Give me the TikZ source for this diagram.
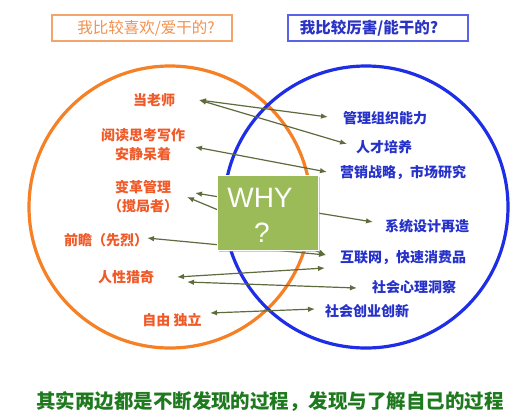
\documentclass[tikz,border=0pt]{standalone}
\usepackage{fontspec}
\newfontfamily\cjk{Noto Sans CJK SC}
\newfontfamily\latin{Liberation Sans}
\usetikzlibrary{arrows.meta,shadows}
\definecolor{orangeC}{HTML}{F58025}
\definecolor{blueC}{HTML}{1E2EE6}
\definecolor{leftT}{HTML}{EF5A28}
\definecolor{rightT}{HTML}{2531C9}
\definecolor{arrowC}{HTML}{5E6B3D}
\definecolor{whyG}{HTML}{9BBB59}
\definecolor{titleOT}{HTML}{F3914F}
\definecolor{titleOB}{HTML}{F4A36A}
\definecolor{titleBT}{HTML}{2A33C4}
\definecolor{titleBB}{HTML}{5A63E6}
\definecolor{bottomG}{HTML}{1F7A1F}
\begin{document}
\begin{tikzpicture}[x=1pt,y=-1pt,
  lt/.style={text=leftT,font=\cjk\bfseries\fontsize{14}{19}\selectfont,inner sep=0pt},
  rt/.style={text=rightT,font=\cjk\bfseries\fontsize{14}{19}\selectfont,inner sep=0pt},
  conn/.style={draw=arrowC,line width=1.2pt,{Latex[length=7pt,width=5.5pt]}-{Latex[length=7pt,width=5.5pt]}},
  titlebox/.style={minimum width=180pt,minimum height=26pt,line width=1.2pt,inner sep=0pt}]
\useasboundingbox (0,0) rectangle (530,418);
\fill[white] (0,0) rectangle (530,418);
% titles
\node[titlebox,draw=titleOB] (tbo) at (142,28) {};
\node[text=titleOT,font=\cjk\fontsize{15.5}{18}\selectfont] (tto) at (146,28) {我比较喜欢/爱干的?};
\node[titlebox,draw=titleBB] (tbb) at (378,28) {};
\node[text=titleBT,font=\cjk\bfseries\fontsize{15.5}{18}\selectfont] (ttb) at (369,28) {我比较厉害/能干的?};
% circles
\draw[orangeC,line width=3.2pt] (170,207) circle[radius=141];
\draw[blueC,line width=3.2pt] (366,207) ellipse[x radius=142,y radius=141];
% left labels
\node[lt] (teach) at (154,100) {当老师};
\node[lt,align=center] (read) at (143,145) {阅读思考写作\\安静呆着};
\node[lt,align=center] (change) at (143,197) {变革管理\\（搅局者）};
\node[lt] (fore) at (106,240) {前瞻（先烈）};
\node[lt] (human) at (126,277) {人性猎奇};
\node[lt] (free) at (172,320) {自由 独立};
% right labels
\node[rt] (mgmt) at (385,118) {管理组织能力};
\node[rt] (talent) at (384,147) {人才培养};
\node[rt] (mkt) at (403,173) {营销战略，市场研究};
\node[rt] (sys) at (427,226) {系统设计再造};
\node[rt] (net) at (403,258) {互联网，快速消费品};
\node[rt] (psy) at (414,287) {社会心理洞察};
\node[rt] (soc) at (367,311) {社会创业创新};
% arrow ends
\coordinate (teachE) at (199,100);
\coordinate (mgmtE) at (328,117);
\coordinate (talentE) at (347,144);
\coordinate (readE) at (195,147);
\coordinate (mktE) at (327,172);
\coordinate (changeE1) at (195,193);
\coordinate (changeE2) at (187,197);
\coordinate (sysE) at (373,222);
\coordinate (foreE) at (147,238);
\coordinate (netE) at (326,255);
\coordinate (humanE1) at (177,277);
\coordinate (humanE2) at (187,282);
\coordinate (belowNetE) at (325,268);
\coordinate (psyE) at (357,288);
\coordinate (freeE) at (210,313);
\coordinate (socE) at (315,309);
\draw[conn] (teachE) -- (mgmtE);
\draw[conn] (teachE) -- (talentE);
\draw[conn] (readE) -- (mktE);
\draw[conn] (changeE1) -- (sysE);
\draw[conn] (changeE2) -- (netE);
\draw[conn] (foreE) -- (netE);
\draw[conn] (humanE1) -- (belowNetE);
\draw[conn] (humanE2) -- (psyE);
\draw[conn] (freeE) -- (socE);
% WHY box
\node[fill=whyG,draw=white,line width=0.8pt,minimum width=101pt,minimum height=75pt,inner sep=0pt,
  drop shadow={shadow xshift=1.5pt,shadow yshift=-1.5pt,fill=black!40}] (why) at (267.5,212.5) {};
\node[text=white,font=\latin\fontsize{28}{30}\selectfont,inner sep=0pt] (whyT) at (260,198) {WHY};
\node[text=white,font=\latin\fontsize{28}{30}\selectfont,inner sep=0pt] (whyQ) at (262,233) {?};
% bottom
\node[text=bottomG,font=\cjk\bfseries\fontsize{19.5}{22}\selectfont,inner sep=0pt] (bottom) at (270,402) {其实两边都是不断发现的过程，发现与了解自己的过程};
\end{tikzpicture}
\end{document}
